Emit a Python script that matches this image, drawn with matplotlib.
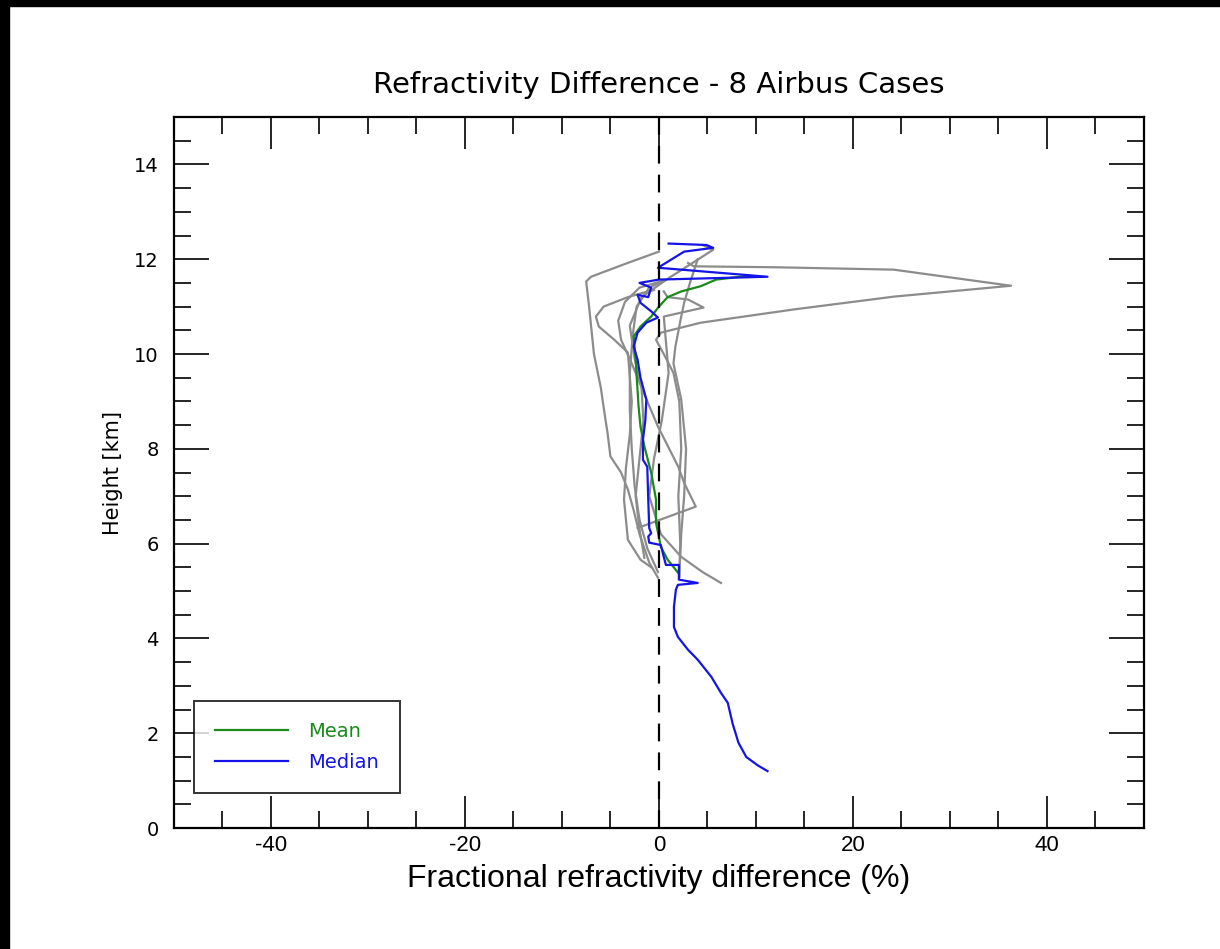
import matplotlib
matplotlib.use("Agg")
import matplotlib.pyplot as plt
from matplotlib.patches import Rectangle
from matplotlib.ticker import MultipleLocator

plt.rcParams["axes.unicode_minus"] = False

# --- data (x = % difference, y = height km) ---
median_x = [11.2, 10.2, 9.0, 8.2, 7.6, 7.1, 6.4, 5.4, 4.0, 3.0, 1.96, 1.55, 1.55, 1.75, 1.96, 4.0, 2.06,
            2.06, 2.06, 0.72, 0.5, 0.2, -1.0, -1.1, -0.8, -1.0, -1.1, -1.2, -1.65, -1.65, -1.4, -1.3,
            -1.9, -2.2, -2.6, -2.2, -1.3, -0.1, -0.8, -1.9, -2.2, -1.1, -0.8, -2.0, 0.0, 11.2, -0.1,
            2.6, 5.6, 4.9, 1.0]
median_y = [1.2, 1.32, 1.5, 1.8, 2.2, 2.64, 2.85, 3.19, 3.55, 3.76, 4.03, 4.24, 4.67, 5.03, 5.13, 5.17, 5.24,
            5.3, 5.55, 5.55, 5.72, 5.97, 6.02, 6.15, 6.22, 6.33, 6.93, 7.62, 7.77, 8.19, 8.6, 9.04,
            9.5, 9.88, 10.16, 10.45, 10.66, 10.77, 10.9, 11.08, 11.25, 11.2, 11.4, 11.5, 11.57, 11.63,
            11.82, 12.16, 12.24, 12.3, 12.33]

mean_x = [2.0, 0.9, 0.2, -0.3, -0.3, -0.8, -1.5, -1.9, -2.1, -2.4, -2.6, -1.9, -0.8, 0.0, 0.9, 2.3,
          4.3, 5.9, 9.2]
mean_y = [5.38, 5.66, 5.93, 6.44, 6.93, 7.5, 8.05, 8.47, 8.9, 9.88, 10.37, 10.58, 10.79, 11.0, 11.2,
          11.32, 11.43, 11.57, 11.65]

case1_x = [2.1, 2.2, 2.0, 2.3, 2.1, 1.5, 0.5, -0.3, 0.2, 4.3, 13.9, 24.2, 36.3, 24.2, 12.0, 3.6, 3.0]
case1_y = [5.3, 6.0, 7.0, 8.0, 9.0, 9.6, 10.0, 10.3, 10.45, 10.66, 10.94, 11.21, 11.44, 11.78, 11.83,
           11.85, 11.92]
case2_x = [-0.1, -1.0, -2.0, -2.6, -3.2, -3.9, -5.0, -5.3, -5.5, -6.0, -6.7, -7.2, -7.5, -7.0, -3.5, 0.0]
case2_y = [5.28, 5.6, 6.2, 6.7, 7.14, 7.5, 7.84, 8.34, 8.6, 9.3, 10.0, 11.0, 11.53, 11.63, 11.9, 12.16]
case3_x = [-0.8, -1.9, -3.2, -3.6, -3.4, -3.0, -2.8, -3.2, -4.6, -6.2, -6.5, -5.7, -3.2, -1.5, -0.5]
case3_y = [5.5, 5.66, 6.08, 6.93, 7.6, 8.3, 9.0, 10.03, 10.3, 10.58, 10.79, 11.0, 11.2, 11.3, 11.35]
case4_x = [6.4, 4.5, 2.3, 0.2, -1.0, -0.5, 0.3, 1.0, 0.5, 4.6, 3.0, 0.9, 0.5]
case4_y = [5.17, 5.4, 5.72, 6.2, 7.0, 7.8, 8.6, 9.6, 10.79, 10.98, 11.15, 11.2, 11.32]
case5_x = [-2.2, 3.8, 2.6, 2.0, -0.1, -1.2, -2.0, -2.8, -3.9, -4.2, -3.5, -2.0, 0.5]
case5_y = [6.33, 6.78, 7.28, 7.62, 8.47, 9.0, 9.4, 9.8, 10.3, 10.7, 11.1, 11.4, 11.55]
case6_x = [2.1, 2.3, 2.6, 2.8, 2.3, 1.5, 1.7, 2.3, 2.6, 3.2, 4.0]
case6_y = [5.3, 6.2, 7.0, 8.0, 9.04, 9.8, 10.16, 10.79, 11.08, 11.5, 12.0]
case7_x = [-0.1, -1.2, -2.0, -2.5, -2.8, -3.0, -3.0, -2.7, -2.3, -1.0, 0.0]
case7_y = [5.4, 5.9, 6.5, 7.2, 8.0, 8.8, 9.6, 10.4, 11.0, 11.4, 11.5]
case8_x = [-1.5, -2.0, -2.4, -2.0, -1.6, -1.8, -2.5, -3.0, -1.8, 1.0, 5.6, 4.5]
case8_y = [5.7, 6.3, 7.0, 7.8, 8.6, 9.3, 9.9, 10.6, 11.2, 11.6, 12.2, 12.3]

cases = [(case1_x, case1_y), (case2_x, case2_y), (case3_x, case3_y), (case4_x, case4_y),
         (case5_x, case5_y), (case6_x, case6_y), (case7_x, case7_y), (case8_x, case8_y)]

x_ticks = [-40, -20, 0, 20, 40]
y_ticks = [0, 2, 4, 6, 8, 10, 12, 14]

narrow = ["Liberation Sans Narrow", "Liberation Sans"]

fig = plt.figure(figsize=(12.2, 9.49), dpi=100)
ax = fig.add_axes([0.1426, 0.1275, 0.795, 0.7492])

for cx, cy in cases:
    ax.plot(cx, cy, color="#8c8c8c", lw=1.6)
ax.plot(mean_x, mean_y, color="#1a8a1a", lw=1.6, label="Mean")
ax.plot(median_x, median_y, color="#1414e6", lw=1.6, label="Median")
ax.axvline(0, color="black", lw=1.6, dashes=(8, 5))

ax.set_xlim(-50, 50)
ax.set_ylim(0, 15)
ax.set_xticks(x_ticks)
ax.set_yticks(y_ticks)
ax.xaxis.set_minor_locator(MultipleLocator(5))
ax.yaxis.set_minor_locator(MultipleLocator(0.5))
ax.tick_params(which="both", direction="in", top=True, right=True, width=1.2)
ax.tick_params(which="major", axis="x", length=23, labelsize=16, pad=5,
               labelfontfamily="Liberation Sans")
ax.tick_params(which="minor", axis="x", length=12)
ax.tick_params(which="major", axis="y", length=25, labelsize=14, pad=11)
ax.tick_params(which="minor", axis="y", length=12)
for s in ax.spines.values():
    s.set_linewidth(1.6)

ax.set_title("Refractivity Difference - 8 Airbus Cases", fontsize=21, pad=17)
ax.set_xlabel("Fractional refractivity difference (%)", fontsize=23, family=narrow, labelpad=6)
ax.set_ylabel("Height [km]", fontsize=15, labelpad=8)

leg = ax.legend(loc="lower left", bbox_to_anchor=(0.0206, 0.049), borderaxespad=0,
                fancybox=False, edgecolor="black", fontsize=14, labelcolor="linecolor",
                handlelength=3.75, handletextpad=1.0, borderpad=1.1, labelspacing=0.6)
leg.get_frame().set_linewidth(1.4)

# black frame strips on the left and top edges
fig.patches.append(Rectangle((0, 0), 9 / 1220, 1, transform=fig.transFigure, color="black"))
fig.patches.append(Rectangle((0, 1 - 6 / 949), 1, 6 / 949, transform=fig.transFigure, color="black"))

fig.savefig("out.png", dpi=100)
